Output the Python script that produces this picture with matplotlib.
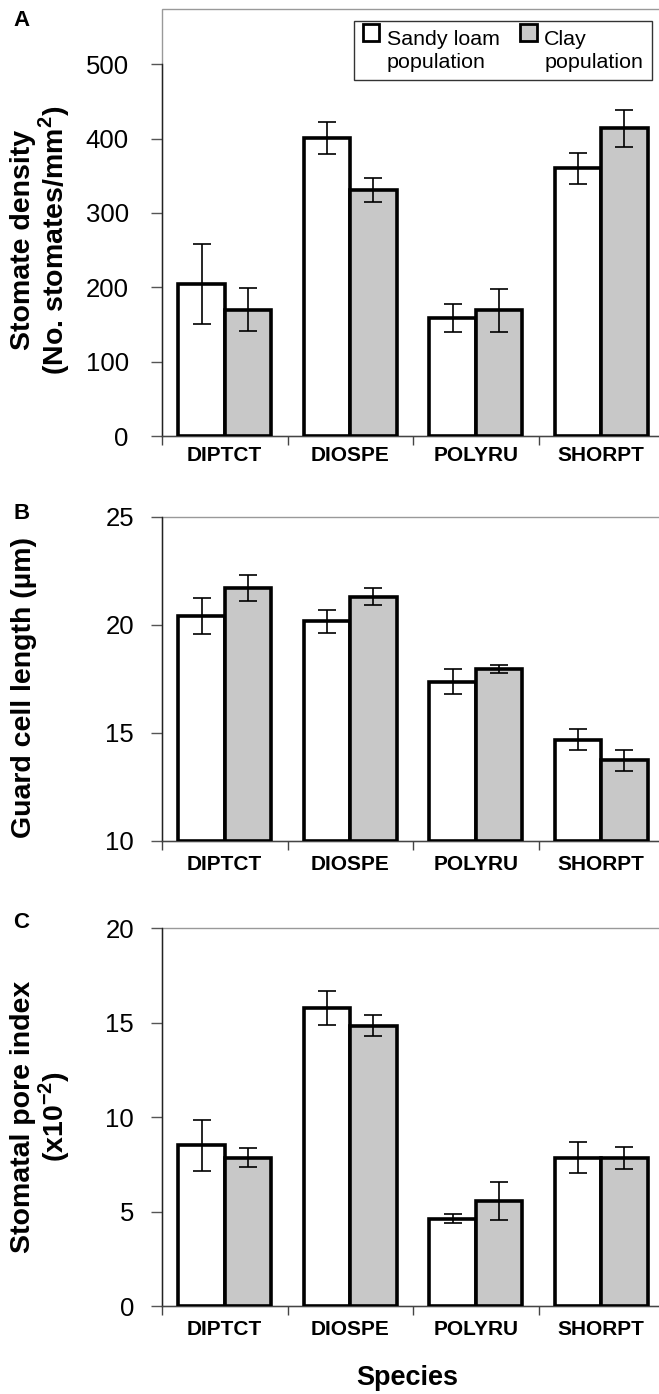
import numpy as np
import matplotlib
matplotlib.use("Agg")
import matplotlib.pyplot as plt
from matplotlib.patches import Rectangle
from matplotlib.legend_handler import HandlerPatch
from matplotlib.ticker import FixedLocator, NullFormatter

plt.rcParams['font.family'] = ['Liberation Sans', 'DejaVu Sans']
plt.rcParams['mathtext.fontset'] = 'custom'
plt.rcParams['mathtext.rm'] = 'Liberation Sans'
plt.rcParams['mathtext.bf'] = 'Liberation Sans:bold'

# ---------------- data ----------------
species = ['DIPTCT', 'DIOSPE', 'POLYRU', 'SHORPT']
series_names = ['Sandy loam\npopulation', 'Clay\npopulation']

density_sandy = [204, 401, 159, 360]
density_sandy_err = [54, 22, 19, 21]
density_clay = [170, 331, 169, 414]
density_clay_err = [29, 16, 29, 25]

guard_sandy = [20.4, 20.15, 17.35, 14.68]
guard_sandy_err = [0.85, 0.53, 0.58, 0.48]
guard_clay = [21.7, 21.3, 17.95, 13.72]
guard_clay_err = [0.6, 0.38, 0.17, 0.48]

pore_sandy = [8.5, 15.8, 4.62, 7.86]
pore_sandy_err = [1.35, 0.9, 0.25, 0.82]
pore_clay = [7.85, 14.85, 5.55, 7.86]
pore_clay_err = [0.5, 0.55, 1.0, 0.58]

density_ticks = [0, 100, 200, 300, 400, 500]
guard_ticks = [10, 15, 20, 25]
pore_ticks = [0, 5, 10, 15, 20]

# ---------------- layout ----------------
W, H = 659, 1394
fig = plt.figure(figsize=(W / 100, H / 100), dpi=100)


def rect(l, r, t, b):
    return [l / W, 1 - b / H, (r - l) / W, (b - t) / H]


GRAY = '#c8c8c8'
bw = 0.37
off = 0.185
x = np.arange(len(species))

panels = [
    dict(r=rect(162, 664, 9.3, 436), ylim=(0, 574), ticks=density_ticks,
         s=density_sandy, se=density_sandy_err, c=density_clay, ce=density_clay_err,
         ypad=16, xpad=7),
    dict(r=rect(162, 664, 516.7, 840.7), ylim=(10, 25), ticks=guard_ticks,
         s=guard_sandy, se=guard_sandy_err, c=guard_clay, ce=guard_clay_err,
         ypad=12, xpad=10),
    dict(r=rect(162, 664, 928.3, 1306), ylim=(0, 20), ticks=pore_ticks,
         s=pore_sandy, se=pore_sandy_err, c=pore_clay, ce=pore_clay_err,
         ypad=12, xpad=10),
]

axes = []
for p in panels:
    ax = fig.add_axes(p['r'])
    axes.append(ax)
    ax.set_xlim(-0.5, len(species) - 0.5)
    ax.set_ylim(*p['ylim'])
    b0 = p['ylim'][0]
    ax.bar(x - off, np.array(p['s']) - b0, bw, bottom=b0, color='white',
           edgecolor='black', linewidth=2.6, zorder=3)
    ax.bar(x + off, np.array(p['c']) - b0, bw, bottom=b0, color=GRAY,
           edgecolor='black', linewidth=2.6, zorder=3)
    ax.errorbar(x - off, p['s'], yerr=p['se'], fmt='none', ecolor='black',
                elinewidth=1.2, capsize=6.5, capthick=1.2, zorder=4)
    ax.errorbar(x + off, p['c'], yerr=p['ce'], fmt='none', ecolor='black',
                elinewidth=1.2, capsize=6.5, capthick=1.2, zorder=4)

    ax.set_yticks(p['ticks'])
    ax.set_yticklabels([str(t) for t in p['ticks']])
    ax.tick_params(axis='y', direction='out', length=8, width=1, color='#555555',
                   labelsize=18.5, pad=p['ypad'])
    ax.set_xticks(x)
    ax.set_xticklabels(species, fontweight='bold')
    ax.tick_params(axis='x', which='major', length=0, labelsize=15, pad=p['xpad'])
    ax.xaxis.set_minor_locator(FixedLocator(np.arange(-0.5, len(species), 1.0)))
    ax.xaxis.set_minor_formatter(NullFormatter())
    ax.tick_params(axis='x', which='minor', direction='out', length=6.5, width=1,
                   color='#444444')
    # plot-area frame (grey) with the value axis drawn in black on top
    ax.patch.set_facecolor('white')
    ax.patch.set_edgecolor('#999999')
    ax.patch.set_linewidth(1)
    ax.spines['right'].set_visible(False)
    ax.spines['top'].set_visible(False)
    ax.spines['left'].set_color('#222222')
    ax.spines['left'].set_linewidth(1)
    ax.spines['left'].set_bounds(p['ticks'][0], p['ticks'][-1])
    ax.spines['bottom'].set_color('#444444')
    ax.spines['bottom'].set_linewidth(1)

# ---------------- legend ----------------
def top_patch(legend, orig_handle, xdescent, ydescent, width, height, fontsize):
    return Rectangle((-xdescent, -ydescent + fontsize * 0.87), width, height)


h1 = Rectangle((0, 0), 1, 1, facecolor='white', edgecolor='black', linewidth=2)
h2 = Rectangle((0, 0), 1, 1, facecolor=GRAY, edgecolor='black', linewidth=2)
leg = axes[0].legend([h1, h2], series_names, ncol=2, loc='upper left',
                     bbox_to_anchor=((354 - 162) / 502, (436 - 21.5) / (436 - 9.3)),
                     borderaxespad=0, fontsize=15.4, frameon=True, fancybox=False,
                     edgecolor='#333333', framealpha=1, handlelength=0.78,
                     handleheight=0.85, handletextpad=0.35, columnspacing=0.95,
                     borderpad=0.4, labelspacing=0.2,
                     handler_map={Rectangle: HandlerPatch(patch_func=top_patch)})
leg.get_frame().set_linewidth(1)
for t in leg.get_texts():
    t.set_linespacing(1.25)

# ---------------- labels ----------------
def fx(px):
    return px / W


def fy(py):
    return 1 - py / H


fig.text(fx(41), fy(240), 'Stomate density\n(No. stomates/mm$^{\\mathbf{2}}$)',
         rotation=90, ha='center', va='center', fontsize=20.5, fontweight='bold',
         linespacing=1.0, multialignment='center')
fig.text(fx(24), fy(688), 'Guard cell length (\u00b5m)', rotation=90, ha='center',
         va='center', fontsize=20.5, fontweight='bold')
fig.text(fx(41), fy(1117), 'Stomatal pore index\n(x10$^{\\mathbf{-2}}$)',
         rotation=90, ha='center', va='center', fontsize=20.5, fontweight='bold',
         linespacing=1.0, multialignment='center')

for letter, py in [('A', 20.5), ('B', 514), ('C', 922)]:
    fig.text(fx(21.5), fy(py), letter, ha='center', va='center', fontsize=16,
             fontweight='bold')

fig.text(fx(407), fy(1378), 'Species', ha='center', va='center', fontsize=19.5,
         fontweight='bold')

fig.savefig('out.png', dpi=100)
